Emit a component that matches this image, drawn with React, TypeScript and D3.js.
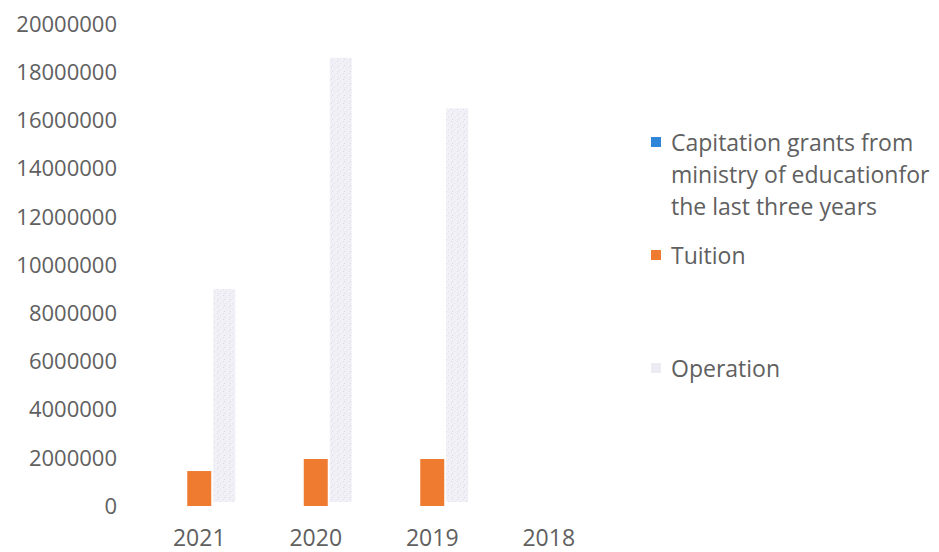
import React from "react";
import * as d3 from "d3";

const categories = ["2021", "2020", "2019", "2018"];
const seriesNames = [
  "Capitation grants from ministry of educationfor the last three years",
  "Tuition",
  "Operation",
];
const capitation = [0, 0, 0, 0];
const tuition = [1450000, 1950000, 1950000, 0];
const operation = [9000000, 18600000, 16500000, 0];
const yTicks = [0, 2000000, 4000000, 6000000, 8000000, 10000000, 12000000, 14000000, 16000000, 18000000, 20000000];
const legendLines = [
  ["Capitation grants from", "ministry of educationfor", "the last three years"],
  ["Tuition"],
  ["Operation"],
];

const colors = ["#2F86D8", "#EE7B30", "#ECEAF3"];
const font = "'Open Sans', sans-serif";
const textColor = "#606060";

export default function App() {
  const W = 939, H = 552;
  const x = d3.scaleBand().domain(categories).range([141, 607]).paddingInner(0).paddingOuter(0);
  const y = d3.scaleLinear().domain([0, 20000000]).range([506, 24]);
  const barW = 24;
  const series = [capitation, tuition, operation];
  const legendY = [143, 256, 369];
  return (
    <svg width={W} height={H} style={{ position: "absolute", left: 0, top: 0, background: "#fff" }}>
      <defs>
        <pattern id="speck" width="6" height="6" patternUnits="userSpaceOnUse">
          <rect width="6" height="6" fill="#F1F0F6" />
          <rect x="1" y="1" width="1" height="1" fill="#DCD9E8" />
          <rect x="4" y="3" width="1" height="1" fill="#E2E0EC" />
          <rect x="2" y="5" width="1" height="1" fill="#D8D5E5" />
        </pattern>
      </defs>
      {yTicks.map((t) => (
        <text key={t} x={117} y={y(t)} dy="0.35em" textAnchor="end" fontFamily={font} fontSize={22} fill={textColor}>
          {t}
        </text>
      ))}
      {categories.map((c) => (
        <text key={c} x={(x(c) as number) + x.bandwidth() / 2} y={546} textAnchor="middle" fontFamily={font} fontSize={23} fill={textColor}>
          {c}
        </text>
      ))}
      {series.map((vals, si) =>
        categories.map((c, ci) => {
          const v = vals[ci];
          if (!v) return null;
          const cx = (x(c) as number) + x.bandwidth() / 2;
          const bx = cx - barW * 1.5 + si * barW;
          return (
            <rect
              key={si + "-" + c}
              x={bx + (si === 2 ? 2 : 0)}
              y={y(v)}
              width={si === 2 ? barW - 2 : barW}
              height={y(0) - y(v) - (si === 2 ? 4 : 0)}
              fill={si === 2 ? "url(#speck)" : colors[si]}
            />
          );
        })
      )}
      {legendLines.map((lines, i) => (
        <g key={i}>
          <rect x={651} y={legendY[i] - 6} width={10} height={10} fill={i === 2 ? "#ECEAF3" : colors[i]} />
          {lines.map((l, j) => (
            <text key={j} x={671} y={legendY[i] + j * 32} dy="0.35em" fontFamily={font} fontSize={23} fill={textColor}>
              {l}
            </text>
          ))}
        </g>
      ))}
    </svg>
  );
}
